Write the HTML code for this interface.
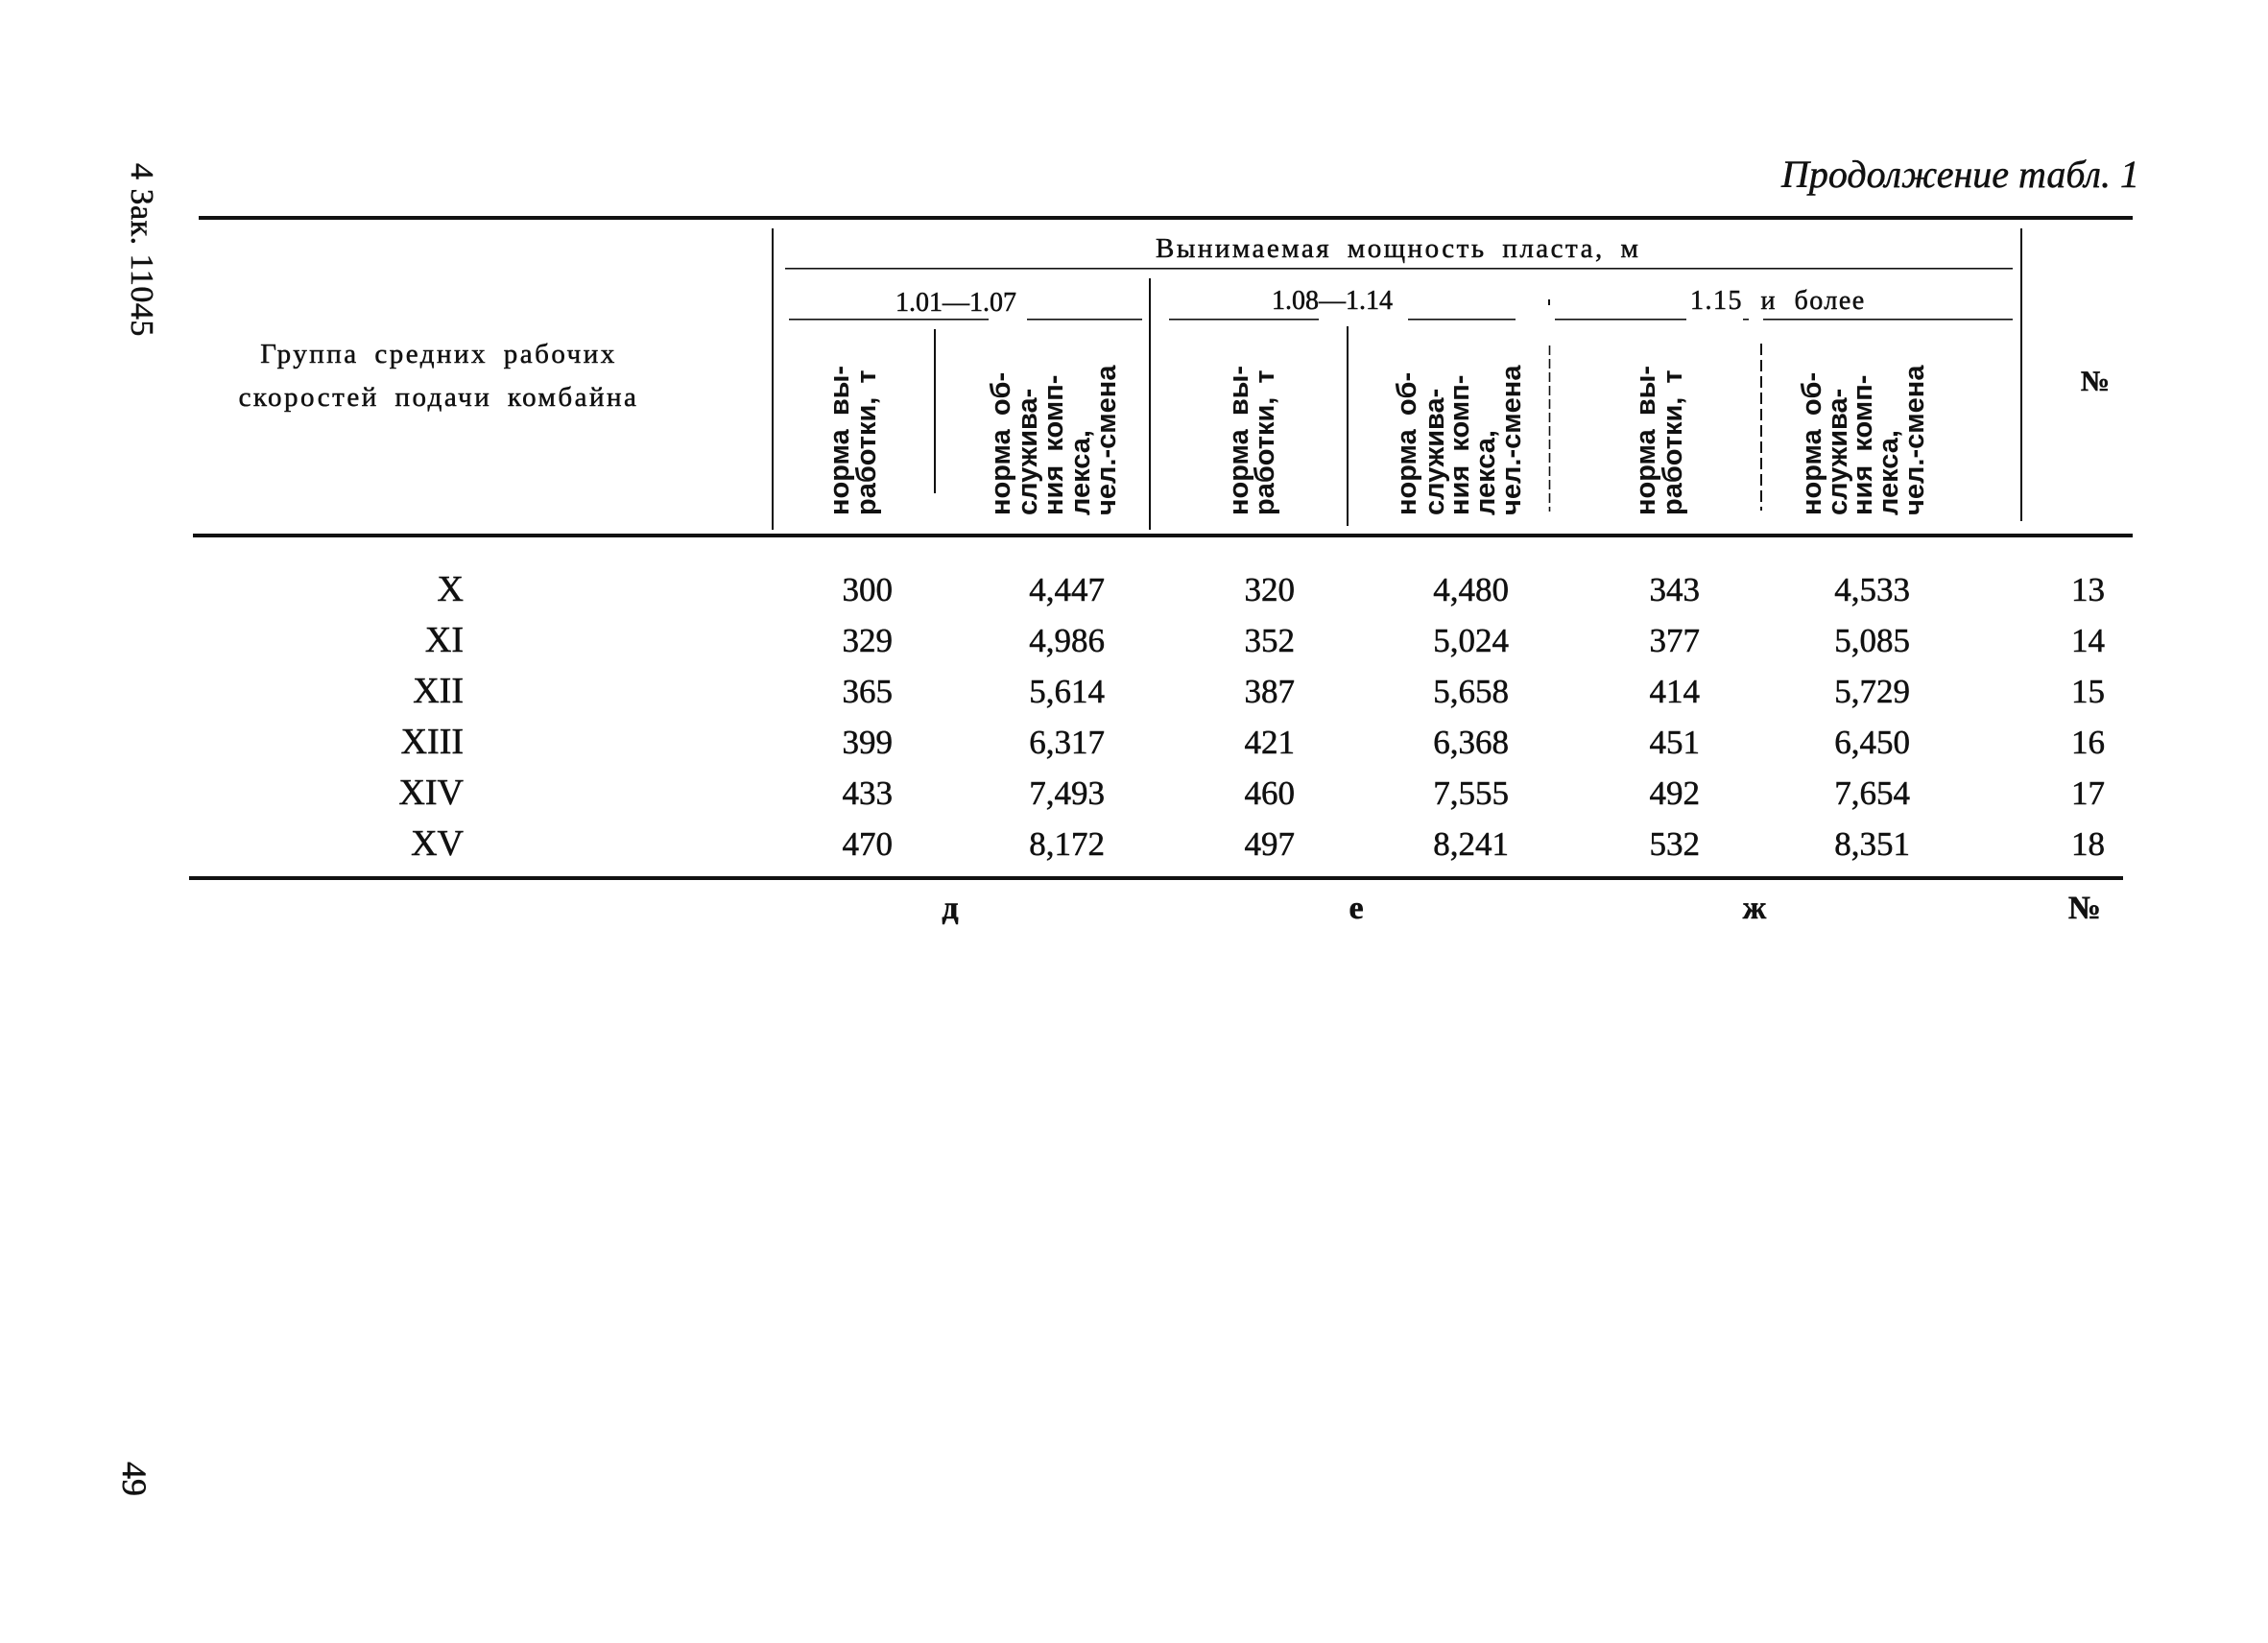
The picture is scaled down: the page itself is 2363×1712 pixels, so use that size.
<!DOCTYPE html>
<html><head><meta charset="utf-8"><style>
html,body{margin:0;padding:0;background:#fff;}
svg{display:block;}
.s{font-family:"Liberation Serif","Noto Serif CJK SC",serif;fill:#111;stroke:#111;stroke-width:0.5px;}
.b{font-family:"Liberation Sans","Noto Sans CJK SC",sans-serif;font-weight:bold;fill:#111;font-size:29px;word-spacing:6px;}
.n{font-size:35px;text-anchor:end;}
.r{font-size:38px;text-anchor:end;}
.f{font-size:34px;font-weight:bold;text-anchor:middle;}
</style></head><body>
<svg width="2363" height="1712" viewBox="0 0 2363 1712" xmlns="http://www.w3.org/2000/svg">
<rect width="2363" height="1712" fill="#fff"/>
<!-- side texts -->
<text class="s" x="137" y="170" font-size="34" letter-spacing="0.5" transform="rotate(90 137 170)">4 Зак. 11045</text>
<text class="s" x="128" y="1523" font-size="36" transform="rotate(90 128 1523)">49</text>
<!-- title -->
<text class="s" x="2229" y="195" font-size="40" font-style="italic" text-anchor="end">Продолжение табл. 1</text>
<!-- rules -->
<rect x="207" y="225" width="2015" height="4" fill="#111"/>
<rect x="201" y="556" width="2021" height="4" fill="#111"/>
<rect x="197" y="913" width="2015" height="4" fill="#111"/>
<!-- verticals -->
<rect x="804" y="238" width="2" height="314" fill="#111"/>
<rect x="2105" y="238" width="2" height="305" fill="#111"/>
<rect x="1197" y="290" width="2" height="262" fill="#111"/>
<line x1="1614.5" y1="360" x2="1614.5" y2="533" stroke="#111" stroke-width="1.6" stroke-dasharray="10 4"/>
<rect x="1613" y="312" width="2" height="6" fill="#111"/>
<rect x="973" y="343" width="2" height="171" fill="#111"/>
<rect x="1403" y="340" width="2" height="208" fill="#111"/>
<line x1="1835" y1="358" x2="1835" y2="532" stroke="#111" stroke-width="2" stroke-dasharray="12 5"/>
<!-- horizontal header lines -->
<rect x="818" y="279" width="1279" height="1.6" fill="#111"/>
<rect x="822" y="332" width="208" height="1.6" fill="#111"/>
<rect x="1070" y="332" width="120" height="1.6" fill="#111"/>
<rect x="1218" y="332" width="156" height="1.6" fill="#111"/>
<rect x="1467" y="332" width="112" height="1.6" fill="#111"/>
<rect x="1620" y="332" width="137" height="1.6" fill="#111"/>
<rect x="1816" y="332" width="6" height="1.6" fill="#111"/>
<rect x="1837" y="332" width="260" height="1.6" fill="#111"/>
<!-- header texts -->
<text class="s" x="1204" y="268" font-size="29" letter-spacing="2.5" word-spacing="7">Вынимаемая мощность пласта, м</text>
<text class="s" x="933" y="324" font-size="28">1.01—1.07</text>
<text class="s" x="1325" y="322" font-size="28">1.08—1.14</text>
<text class="s" x="1761" y="322" font-size="28" letter-spacing="1.5" word-spacing="10">1.15 и более</text>
<text class="s" x="457" y="378" font-size="29" letter-spacing="2.5" word-spacing="7" text-anchor="middle">Группа средних рабочих</text>
<text class="s" x="457" y="423" font-size="29" letter-spacing="2.5" word-spacing="7" text-anchor="middle">скоростей подачи комбайна</text>
<text class="s" x="2183" y="407" font-size="30" font-weight="bold" text-anchor="middle">№</text>
<!-- rotated column headers -->
<g>
<text class="b" x="884" y="537" transform="rotate(-90 884 537)">норма вы-</text>
<text class="b" x="912" y="537" transform="rotate(-90 912 537)">работки, т</text>
<text class="b" x="1052" y="537" transform="rotate(-90 1052 537)">норма об-</text>
<text class="b" x="1080" y="537" transform="rotate(-90 1080 537)">служива-</text>
<text class="b" x="1107" y="537" transform="rotate(-90 1107 537)">ния комп-</text>
<text class="b" x="1135" y="537" transform="rotate(-90 1135 537)">лекса,</text>
<text class="b" x="1162" y="537" transform="rotate(-90 1162 537)">чел.-смена</text>

<text class="b" x="1300" y="537" transform="rotate(-90 1300 537)">норма вы-</text>
<text class="b" x="1327" y="537" transform="rotate(-90 1327 537)">работки, т</text>
<text class="b" x="1475" y="537" transform="rotate(-90 1475 537)">норма об-</text>
<text class="b" x="1504" y="537" transform="rotate(-90 1504 537)">служива-</text>
<text class="b" x="1530" y="537" transform="rotate(-90 1530 537)">ния комп-</text>
<text class="b" x="1557" y="537" transform="rotate(-90 1557 537)">лекса,</text>
<text class="b" x="1584" y="537" transform="rotate(-90 1584 537)">чел.-смена</text>

<text class="b" x="1724" y="537" transform="rotate(-90 1724 537)">норма вы-</text>
<text class="b" x="1752" y="537" transform="rotate(-90 1752 537)">работки, т</text>
<text class="b" x="1897" y="537" transform="rotate(-90 1897 537)">норма об-</text>
<text class="b" x="1924" y="537" transform="rotate(-90 1924 537)">служива-</text>
<text class="b" x="1950" y="537" transform="rotate(-90 1950 537)">ния комп-</text>
<text class="b" x="1977" y="537" transform="rotate(-90 1977 537)">лекса,</text>
<text class="b" x="2004" y="537" transform="rotate(-90 2004 537)">чел.-смена</text>
</g>
<!-- data -->
<g>
<text class="s r" x="483" y="626">X</text>
<text class="s r" x="483" y="679">XI</text>
<text class="s r" x="483" y="732">XII</text>
<text class="s r" x="483" y="785">XIII</text>
<text class="s r" x="483" y="838">XIV</text>
<text class="s r" x="483" y="891">XV</text>

<text class="s n" x="930" y="626">300</text>
<text class="s n" x="930" y="679">329</text>
<text class="s n" x="930" y="732">365</text>
<text class="s n" x="930" y="785">399</text>
<text class="s n" x="930" y="838">433</text>
<text class="s n" x="930" y="891">470</text>

<text class="s n" x="1151" y="626">4,447</text>
<text class="s n" x="1151" y="679">4,986</text>
<text class="s n" x="1151" y="732">5,614</text>
<text class="s n" x="1151" y="785">6,317</text>
<text class="s n" x="1151" y="838">7,493</text>
<text class="s n" x="1151" y="891">8,172</text>

<text class="s n" x="1349" y="626">320</text>
<text class="s n" x="1349" y="679">352</text>
<text class="s n" x="1349" y="732">387</text>
<text class="s n" x="1349" y="785">421</text>
<text class="s n" x="1349" y="838">460</text>
<text class="s n" x="1349" y="891">497</text>

<text class="s n" x="1572" y="626">4,480</text>
<text class="s n" x="1572" y="679">5,024</text>
<text class="s n" x="1572" y="732">5,658</text>
<text class="s n" x="1572" y="785">6,368</text>
<text class="s n" x="1572" y="838">7,555</text>
<text class="s n" x="1572" y="891">8,241</text>

<text class="s n" x="1771" y="626">343</text>
<text class="s n" x="1771" y="679">377</text>
<text class="s n" x="1771" y="732">414</text>
<text class="s n" x="1771" y="785">451</text>
<text class="s n" x="1771" y="838">492</text>
<text class="s n" x="1771" y="891">532</text>

<text class="s n" x="1990" y="626">4,533</text>
<text class="s n" x="1990" y="679">5,085</text>
<text class="s n" x="1990" y="732">5,729</text>
<text class="s n" x="1990" y="785">6,450</text>
<text class="s n" x="1990" y="838">7,654</text>
<text class="s n" x="1990" y="891">8,351</text>

<text class="s n" x="2193" y="626">13</text>
<text class="s n" x="2193" y="679">14</text>
<text class="s n" x="2193" y="732">15</text>
<text class="s n" x="2193" y="785">16</text>
<text class="s n" x="2193" y="838">17</text>
<text class="s n" x="2193" y="891">18</text>
</g>
<!-- footer -->
<text class="s f" x="990" y="957">д</text>
<text class="s f" x="1413" y="957">е</text>
<text class="s f" x="1828" y="957">ж</text>
<text class="s f" x="2172" y="957">№</text>
</svg>
</body></html>
